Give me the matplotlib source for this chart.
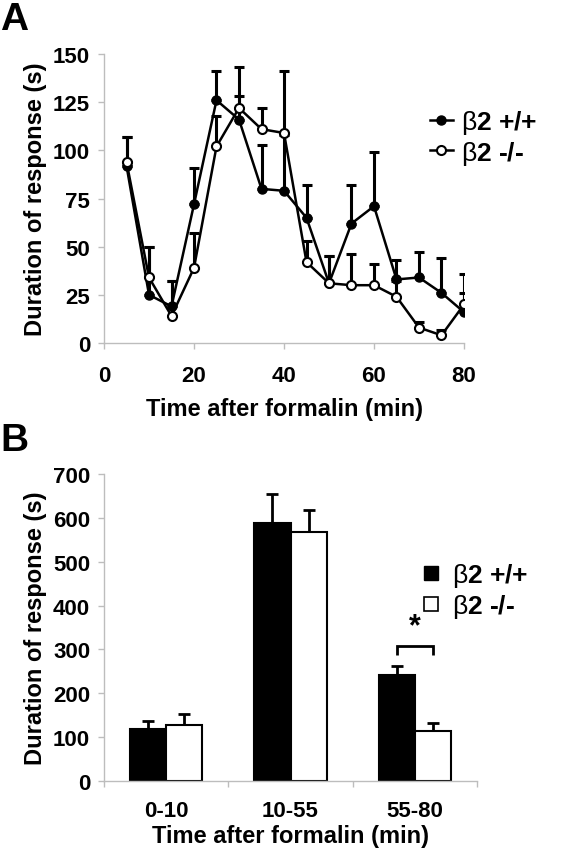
import numpy as np
import matplotlib.pyplot as plt
from matplotlib.lines import Line2D

plt.rcParams['font.family'] = ['Liberation Sans', 'DejaVu Sans']
plt.rcParams['font.weight'] = 'bold'
plt.rcParams['mathtext.fontset'] = 'custom'
plt.rcParams['mathtext.rm'] = 'Liberation Sans:weight=normal'

# panel A: time course (5 min bins)
time_min = [5, 10, 15, 20, 25, 30, 35, 40, 45, 50, 55, 60, 65, 70, 75, 80]
wt_mean = [92, 25, 19, 72, 126, 116, 80, 79, 65, 31, 62, 71, 33, 34, 26, 16]
wt_sem = [15, 25, 13, 19, 15, 12, 23, 29, 17, 14, 20, 28, 10, 13, 18, 10]
ko_mean = [94, 34, 14, 39, 102, 122, 111, 109, 42, 31, 30, 30, 24, 8, 4, 20]
ko_sem = [13, 16, 18, 18, 16, 21, 11, 32, 11, 14, 16, 11, 8, 3, 3, 16]

# panel B: summed phases
phases = ["0-10", "10-55", "55-80"]
wt_bar = [118, 588, 241]
wt_bar_sem = [18, 66, 21]
ko_bar = [127, 567, 115]
ko_bar_sem = [26, 52, 17]

# beta drawn thin (mathtext rm), rest bold
lab_wt = r"$\mathrm{\beta}$2 +/+"
lab_ko = r"$\mathrm{\beta}$2 -/-"

W, H = 566, 853
fig = plt.figure(figsize=(W / 100, H / 100), dpi=100)
fig.patch.set_facecolor("white")

spine_col = "#bdbdbd"
fs = 16
fl = 17


def style_axes(ax):
    for s in ["top", "right"]:
        ax.spines[s].set_visible(False)
    for s in ["left", "bottom"]:
        ax.spines[s].set_color(spine_col)
        ax.spines[s].set_linewidth(1.0)
    ax.tick_params(colors=spine_col, labelcolor="black", labelsize=fs,
                   length=4, width=1.0, direction="out")


# ---------- panel A ----------
axA = fig.add_axes([104 / W, 1 - 344 / H, 360 / W, 289 / H])
style_axes(axA)

t = np.array(time_min)
zero = np.zeros(len(t))
axA.errorbar(t, wt_mean, yerr=[zero, wt_sem], fmt="none", ecolor="black",
             elinewidth=2.2, capsize=3.5, capthick=2.2, zorder=2)
axA.errorbar(t, ko_mean, yerr=[zero, ko_sem], fmt="none", ecolor="black",
             elinewidth=2.2, capsize=3.5, capthick=2.2, zorder=2)
axA.plot(t, wt_mean, "-o", color="black", lw=1.8, ms=6.5,
         mfc="black", mec="black", zorder=3)
axA.plot(t, ko_mean, "-o", color="black", lw=1.8, ms=6.5,
         mfc="white", mec="black", mew=1.5, zorder=4)

axA.set_xlim(0, 80)
axA.set_ylim(0, 150)
axA.set_xticks([0, 20, 40, 60, 80])
axA.set_yticks([0, 25, 50, 75, 100, 125, 150])
axA.tick_params(axis="x", pad=12)
axA.tick_params(axis="y", pad=6)
axA.set_xlabel("Time after formalin (min)", fontsize=fl, fontweight="bold", labelpad=8)
axA.set_ylabel("Duration of response (s)", fontsize=fl, fontweight="bold", labelpad=4)

hA = [Line2D([], [], color="black", lw=1.8, marker="o", ms=6.5, mfc="black", mec="black"),
      Line2D([], [], color="black", lw=1.8, marker="o", ms=6.5, mfc="white", mec="black", mew=1.5)]
axA.legend(hA, [lab_wt, lab_ko], loc="upper left", bbox_to_anchor=(0.875, 0.85),
           frameon=False, fontsize=fs + 3, handlelength=0.9, handletextpad=0.3,
           labelspacing=0.1, borderaxespad=0)

fig.text(0.0, 1 - 2 / H, "A", fontsize=28, fontweight="bold", ha="left", va="top")

# ---------- panel B ----------
axB = fig.add_axes([104 / W, 1 - 782 / H, 373 / W, 307 / H])
style_axes(axB)

x = np.arange(len(phases))
bw = 0.29
axB.bar(x - bw / 2, wt_bar, bw, color="black", edgecolor="black", lw=1.5, zorder=2)
axB.bar(x + bw / 2, ko_bar, bw, color="white", edgecolor="black", lw=1.5, zorder=2)
zb = np.zeros(len(x))
axB.errorbar(x - bw / 2, wt_bar, yerr=[zb, wt_bar_sem], fmt="none", ecolor="black",
             elinewidth=2.0, capsize=4, capthick=2.0, zorder=1)
axB.errorbar(x + bw / 2, ko_bar, yerr=[zb, ko_bar_sem], fmt="none", ecolor="black",
             elinewidth=2.0, capsize=4, capthick=2.0, zorder=1)

axB.set_xlim(-0.5, 2.5)
axB.set_ylim(0, 700)
axB.set_yticks(np.arange(0, 701, 100))
axB.tick_params(axis="y", pad=6)
axB.set_xticks([-0.5, 0.5, 1.5, 2.5])
axB.set_xticklabels([])
axB.set_xticks(x, minor=True)
axB.set_xticklabels(phases, minor=True)
axB.tick_params(axis="x", which="minor", length=0, labelsize=fs, pad=14)
axB.set_xlabel("Time after formalin (min)", fontsize=fl, fontweight="bold", labelpad=2)
axB.set_ylabel("Duration of response (s)", fontsize=fl, fontweight="bold", labelpad=4)

# significance bracket over 55-80
bx0, bx1 = x[2] - bw / 2, x[2] + bw / 2
axB.plot([bx0, bx0, bx1, bx1], [288, 308, 308, 288], color="black", lw=2.0,
         solid_capstyle="butt", solid_joinstyle="miter")
axB.text(x[2], 318, "*", ha="center", va="bottom", fontsize=22, fontweight="bold")

hB = [Line2D([], [], ls="none", marker="s", ms=10, mfc="black", mec="black"),
      Line2D([], [], ls="none", marker="s", ms=10, mfc="white", mec="black", mew=1.2)]
axB.legend(hB, [lab_wt, lab_ko], loc="upper left", bbox_to_anchor=(0.82, 0.75),
           frameon=False, fontsize=fs + 3, handlelength=0.8, handletextpad=0.4,
           labelspacing=0.1, borderaxespad=0)

fig.text(0.0, 1 - 423 / H, "B", fontsize=28, fontweight="bold", ha="left", va="top")

fig.savefig("out.png", dpi=100)
